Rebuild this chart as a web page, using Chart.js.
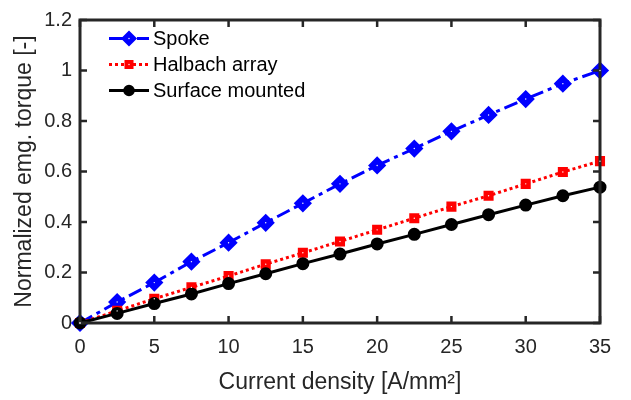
<!DOCTYPE html>
<html>
<head>
<meta charset="utf-8">
<script src="https://cdn.jsdelivr.net/npm/chart.js@4"></script>
<style>
  html, body { margin: 0; padding: 0; background: #fff; }
  #wrap { width: 631px; height: 400px; }
</style>
</head>
<body>
<div id="wrap"><canvas id="torque"></canvas></div>
<script>
// current density [A/mm2]
var current = [0, 2.5, 5, 7.5, 10, 12.5, 15, 17.5, 20, 22.5, 25, 27.5, 30, 32.5, 35];
// normalized torque per rotor type
var spoke = [0, 0.083, 0.160, 0.243, 0.318, 0.397, 0.474, 0.551, 0.624, 0.691, 0.759, 0.824, 0.887, 0.948, 1.0];
var halbach = [0, 0.048, 0.096, 0.141, 0.186, 0.233, 0.278, 0.323, 0.369, 0.415, 0.461, 0.504, 0.551, 0.598, 0.641];
var surface = [0, 0.038, 0.077, 0.115, 0.156, 0.195, 0.235, 0.273, 0.313, 0.351, 0.390, 0.429, 0.467, 0.504, 0.538];
var xTicks = [0, 5, 10, 15, 20, 25, 30, 35];
var yTicks = [0, 0.2, 0.4, 0.6, 0.8, 1, 1.2];

var FONT = '"Liberation Sans", Arial, Helvetica, sans-serif';
var AXIS = '#262626';

function pts(ys) {
  return ys.map(function(v, i) { return { x: current[i], y: v }; });
}

// box around the axes with inward ticks on all four sides, plus legend
var boxPlugin = {
  id: 'box',
  afterDatasetsDraw: function(chart) {
    var ctx = chart.ctx, a = chart.chartArea;
    var xs = chart.scales.x, ys = chart.scales.y;
    var len = 7;
    ctx.save();
    ctx.strokeStyle = AXIS;
    ctx.lineWidth = 2.5;
    ctx.beginPath();
    xTicks.forEach(function(t) {
      var px = xs.getPixelForValue(t);
      ctx.moveTo(px, a.bottom); ctx.lineTo(px, a.bottom - len);
      ctx.moveTo(px, a.top); ctx.lineTo(px, a.top + len);
    });
    yTicks.forEach(function(t) {
      var py = ys.getPixelForValue(t);
      ctx.moveTo(a.left, py); ctx.lineTo(a.left + len, py);
      ctx.moveTo(a.right, py); ctx.lineTo(a.right - len, py);
    });
    ctx.stroke();
    ctx.lineWidth = 3;
    ctx.strokeRect(a.left, a.top, a.right - a.left, a.bottom - a.top);

    // tiny white centre on diamond and square markers
    ctx.fillStyle = '#fff';
    [0, 1].forEach(function(di) {
      chart.getDatasetMeta(di).data.forEach(function(el) {
        ctx.beginPath();
        ctx.arc(el.x, el.y, 0.7, 0, Math.PI * 2);
        ctx.fill();
      });
    });

    // legend inside the axes, upper left
    var lx = 109, ly = 38.5, step = 26;
    chart.data.datasets.forEach(function(ds, i) {
      var y = ly + i * step;
      ctx.strokeStyle = ds.borderColor;
      ctx.lineWidth = ds.borderWidth;
      ctx.setLineDash(ds.borderDash || []);
      ctx.beginPath();
      ctx.moveTo(lx, y); ctx.lineTo(lx + 40, y);
      ctx.stroke();
      ctx.setLineDash([]);
      ctx.fillStyle = ds.pointBackgroundColor;
      ctx.strokeStyle = ds.pointBackgroundColor;
      Chart.helpers.drawPoint(ctx, {
        pointStyle: ds.pointStyle, radius: ds.pointRadius * 0.85, borderWidth: 1
      }, lx + 20, y);
      if (i < 2) {
        ctx.fillStyle = '#fff';
        ctx.beginPath();
        ctx.arc(lx + 20, y, 0.7, 0, Math.PI * 2);
        ctx.fill();
      }
      ctx.fillStyle = '#000';
      ctx.font = '20px ' + FONT;
      ctx.textBaseline = 'middle';
      ctx.textAlign = 'left';
      ctx.fillText(ds.label, lx + 44, y + 1);
    });
    ctx.restore();
  }
};

new Chart(document.getElementById('torque'), {
  type: 'line',
  data: {
    datasets: [
      {
        label: 'Spoke',
        data: pts(spoke),
        borderColor: '#0000ff',
        backgroundColor: '#0000ff',
        pointBackgroundColor: '#0000ff',
        pointBorderColor: '#0000ff',
        borderWidth: 3,
        borderDash: [14, 5, 4, 5],
        pointStyle: 'rectRot',
        pointRadius: 7,
        order: 2,
        clip: false
      },
      {
        label: 'Halbach array',
        data: pts(halbach),
        borderColor: '#ff0000',
        backgroundColor: '#ff0000',
        pointBackgroundColor: '#ff0000',
        pointBorderColor: '#ff0000',
        borderWidth: 3,
        borderDash: [3, 3],
        pointStyle: 'rect',
        pointRadius: 5,
        order: 1,
        clip: false
      },
      {
        label: 'Surface mounted',
        data: pts(surface),
        borderColor: '#000000',
        backgroundColor: '#000000',
        pointBackgroundColor: '#000000',
        pointBorderColor: '#000000',
        borderWidth: 3,
        pointStyle: 'circle',
        pointRadius: 5,
        order: 0,
        clip: false
      }
    ]
  },
  options: {
    responsive: true,
    maintainAspectRatio: false,
    animation: false,
    layout: { padding: { top: 11, right: 31, left: 0, bottom: 0 } },
    plugins: { legend: { display: false }, tooltip: { enabled: false } },
    elements: { line: { tension: 0 } },
    scales: {
      x: {
        type: 'linear',
        min: 0, max: 35,
        afterBuildTicks: function(s) { s.ticks = xTicks.map(function(v) { return { value: v }; }); },
        afterFit: function(s) { s.height = 77; },
        grid: { display: false, drawTicks: false },
        border: { display: false },
        ticks: { color: AXIS, font: { family: FONT, size: 20 }, padding: 12, maxRotation: 0 },
        title: {
          display: true, text: 'Current density [A/mm\u00b2]',
          color: AXIS, font: { family: FONT, size: 23 }, padding: { top: 0, bottom: 4 }
        }
      },
      y: {
        min: 0, max: 1.2,
        afterBuildTicks: function(s) { s.ticks = yTicks.map(function(v) { return { value: v }; }); },
        afterFit: function(s) { s.width = 80; },
        grid: { display: false, drawTicks: false },
        border: { display: false },
        ticks: {
          color: AXIS, font: { family: FONT, size: 20 }, padding: 8,
          callback: function(v) { return String(Math.round(v * 10) / 10); }
        },
        title: {
          display: true, text: 'Normalized emg. torque [-]',
          color: AXIS, font: { family: FONT, size: 23 }, padding: { top: 11, bottom: 0 }
        }
      }
    }
  },
  plugins: [boxPlugin]
});
</script>
</body>
</html>
